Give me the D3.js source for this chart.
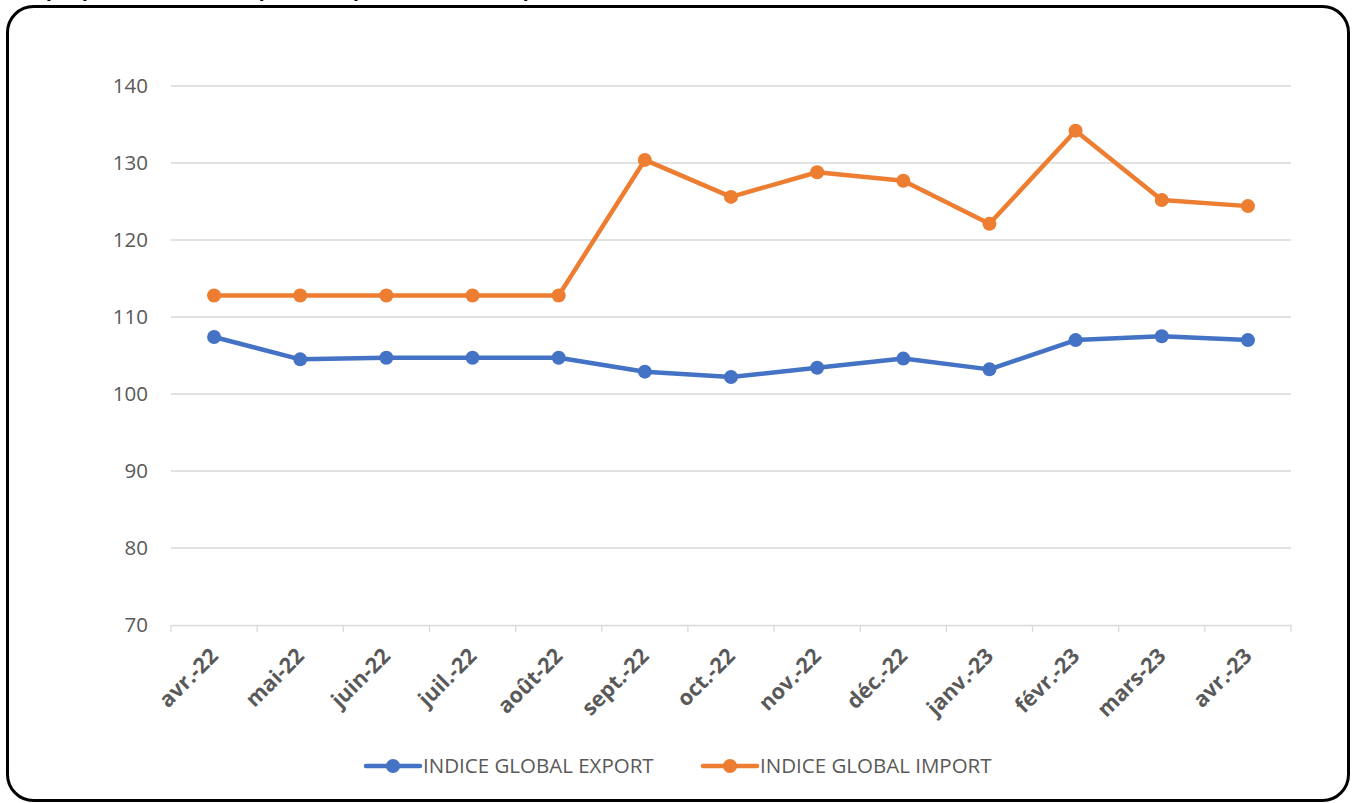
<!DOCTYPE html>
<html>
<head>
<meta charset="utf-8">
<script src="https://cdn.jsdelivr.net/npm/d3@7"></script>
<style>
  body { margin: 0; background: #fff; }
  svg { display: block; }
</style>
</head>
<body>
<div id="chart-area"></div>
<script>
// categories and values
const months = ["avr.-22", "mai-22", "juin-22", "juil.-22", "août-22", "sept.-22", "oct.-22",
  "nov.-22", "déc.-22", "janv.-23", "févr.-23", "mars-23", "avr.-23"];
const exportIdx = [107.4, 104.5, 104.7, 104.7, 104.7, 102.9, 102.2, 103.4, 104.6, 103.2, 107.0, 107.5, 107.0];
const importIdx = [112.8, 112.8, 112.8, 112.8, 112.8, 130.4, 125.6, 128.8, 127.7, 122.1, 134.2, 125.2, 124.4];
const yTicks = [70, 80, 90, 100, 110, 120, 130, 140];
const seriesNames = ["INDICE GLOBAL EXPORT", "INDICE GLOBAL IMPORT"];
const seriesColors = ["#4472C4", "#ED7D31"];

const width = 1356, height = 803;
const font = "'Open Sans', Lato, sans-serif";

let svg = d3.select("#chart-area").append("svg")
  .attr("width", width)
  .attr("height", height);

// title above the frame, cut off by the top of the page as in the source
svg.append("text")
  .attr("x", 14)
  .attr("y", -4)
  .attr("font-family", font)
  .attr("font-size", 20)
  .attr("font-style", "italic")
  .attr("font-weight", "bold")
  .attr("fill", "#000")
  .text("Graphique : Evolution des prix à l'importation et à l'exportation");

// rounded frame
svg.append("rect")
  .attr("x", 7.5)
  .attr("y", 6.5)
  .attr("width", 1341)
  .attr("height", 794)
  .attr("rx", 26)
  .attr("fill", "none")
  .attr("stroke", "#000")
  .attr("stroke-width", 3);

let x = d3.scaleBand().domain(months).range([171, 1291]);
let y = d3.scaleLinear().domain([70, 140]).range([625, 86]);

// gridlines
svg.append("g")
  .selectAll("line")
  .data(yTicks.filter(d => d > 70))
  .enter().append("line")
  .attr("x1", 171).attr("x2", 1291)
  .attr("y1", d => y(d)).attr("y2", d => y(d))
  .attr("stroke", "#d9d9d9")
  .attr("stroke-width", 1.3);

// y labels
svg.append("g")
  .selectAll("text")
  .data(yTicks)
  .enter().append("text")
  .attr("x", 148)
  .attr("y", d => y(d))
  .attr("dy", "0.35em")
  .attr("text-anchor", "end")
  .attr("font-family", font)
  .attr("font-size", 20.5)
  .attr("fill", "#595959")
  .text(d => d);

// x axis: line, ticks at category edges, rotated labels
let xaxis = d3.axisBottom(x).tickSize(0).tickPadding(0);
let gx = svg.append("g")
  .attr("transform", "translate(0,625)")
  .call(xaxis);
gx.select(".domain").attr("stroke", "#d9d9d9").attr("stroke-width", 1.3);
gx.selectAll(".tick text")
  .attr("font-family", font)
  .attr("font-size", 21.5)
  .attr("font-weight", "bold")
  .attr("fill", "#595959")
  .attr("text-anchor", "end")
  .attr("transform", "translate(0,27) rotate(-45)")
  .attr("dy", "0.35em")
  .attr("y", 0);

let edges = months.map(m => x(m)).concat([x.range()[1]]);
svg.append("g")
  .selectAll("line")
  .data(edges)
  .enter().append("line")
  .attr("x1", d => d).attr("x2", d => d)
  .attr("y1", 625).attr("y2", 632)
  .attr("stroke", "#d9d9d9")
  .attr("stroke-width", 1.3);

// series
let line = d3.line()
  .x((d, i) => x(months[i]) + x.bandwidth() / 2)
  .y(d => y(d));

[exportIdx, importIdx].forEach((vals, s) => {
  svg.append("path")
    .datum(vals)
    .attr("d", line)
    .attr("fill", "none")
    .attr("stroke", seriesColors[s])
    .attr("stroke-width", 4.5)
    .attr("stroke-linejoin", "round");
  svg.append("g")
    .selectAll("circle")
    .data(vals)
    .enter().append("circle")
    .attr("cx", (d, i) => x(months[i]) + x.bandwidth() / 2)
    .attr("cy", d => y(d))
    .attr("r", 7)
    .attr("fill", seriesColors[s]);
});

// legend
let legendX = [366, 703];
seriesNames.forEach((name, s) => {
  let g = svg.append("g").attr("transform", `translate(${legendX[s]},766)`);
  g.append("line")
    .attr("x1", 0).attr("x2", 54)
    .attr("stroke", seriesColors[s])
    .attr("stroke-width", 4.5)
    .attr("stroke-linecap", "round");
  g.append("circle").attr("cx", 27).attr("r", 7).attr("fill", seriesColors[s]);
  g.append("text")
    .attr("x", 57)
    .attr("dy", "0.35em")
    .attr("font-family", font)
    .attr("font-size", 20.5)
    .attr("fill", "#595959")
    .text(name);
});
</script>
</body>
</html>
